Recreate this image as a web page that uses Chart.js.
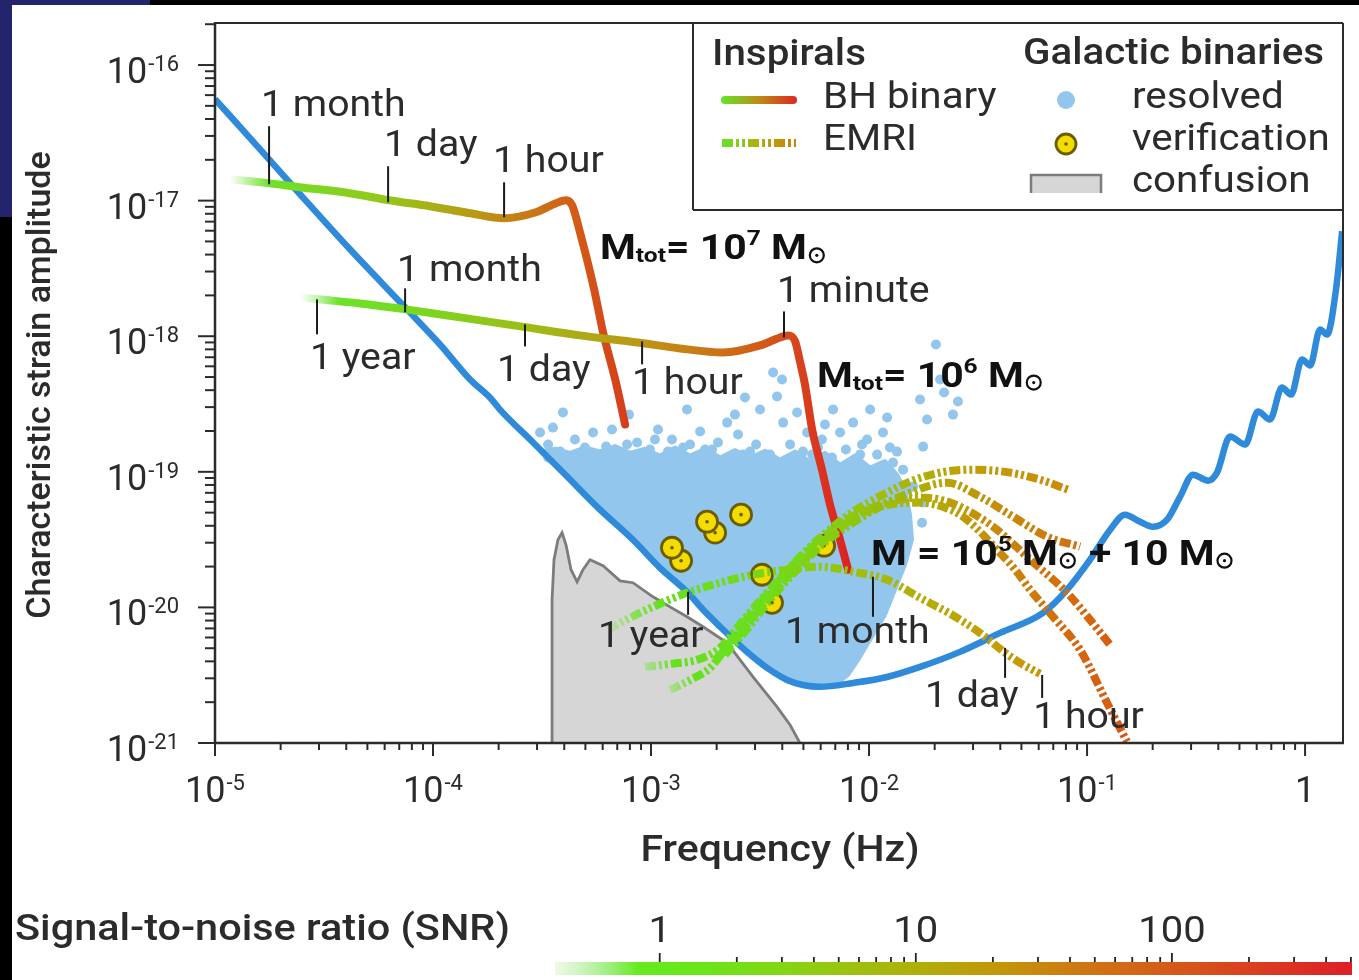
<!DOCTYPE html>
<html>
<head>
<meta charset="utf-8">
<script src="https://cdn.jsdelivr.net/npm/chart.js@4.4.1/dist/chart.umd.min.js"></script>
<style>
  html, body { margin: 0; padding: 0; background: #fff; }
  body { width: 1359px; height: 980px; position: relative; overflow: hidden; }
  canvas { position: absolute; left: 0; }
  #main { top: 0; }
  #snr { top: 880px; }
  .edge { position: absolute; background: #000; z-index: 5; }
</style>
</head>
<body>
<div class="edge" style="left:0;top:0;width:1359px;height:5px"></div>
<div class="edge" style="left:0;top:0;width:12px;height:980px"></div>
<div class="edge" style="left:0;top:0;width:150px;height:5px;background:#24246c"></div>
<div class="edge" style="left:0;top:0;width:12px;height:217px;background:#24246c"></div>
<canvas id="main" width="1359" height="980"></canvas>
<canvas id="snr" width="1359" height="100"></canvas>
<script>
(function () {
  'use strict';

  // ---- values: log10(frequency / Hz), log10(strain) ----
  const X_DECADES = [-5, -4, -3, -2, -1, 0];
  const Y_DECADES = [-21, -20, -19, -18, -17, -16];
  const X_LIMITS = [-5, 0.174];
  const Y_LIMITS = [-21, -15.69];

  // LISA sensitivity
  const SENS_F = [-5.000, -4.794, -4.610, -4.381, -4.128, -3.968, -3.830, -3.739, -3.693, -3.541, -3.385, -3.234, -3.083, -2.959, -2.835, -2.761, -2.683, -2.606, -2.532, -2.454, -2.376, -2.303, -2.225, -2.073, -1.917, -1.766, -1.583, -1.399, -1.202, -1.092, -0.986, -0.894, -0.826, -0.757, -0.697, -0.633, -0.573, -0.514, -0.445, -0.404, -0.344, -0.275, -0.216, -0.161, -0.106, -0.064, -0.014, 0.023, 0.069, 0.101, 0.142, 0.170];
  const SENS_H = [-16.251, -16.620, -16.953, -17.359, -17.787, -18.061, -18.319, -18.452, -18.541, -18.784, -19.035, -19.279, -19.501, -19.708, -19.885, -20.018, -20.143, -20.261, -20.365, -20.461, -20.535, -20.572, -20.586, -20.557, -20.513, -20.439, -20.328, -20.188, -20.040, -19.870, -19.648, -19.427, -19.316, -19.368, -19.405, -19.353, -19.183, -19.021, -19.065, -19.006, -18.740, -18.799, -18.555, -18.614, -18.378, -18.430, -18.171, -18.216, -17.950, -17.987, -17.654, -17.226];

  // galactic confusion foreground
  const CONF_F = [-3.454, -3.454, -3.445, -3.427, -3.408, -3.390, -3.367, -3.339, -3.312, -3.280, -3.220, -3.142, -3.083, -2.991, -2.913, -2.835, -2.761, -2.651, -2.532, -2.422, -2.362, -2.317];
  const CONF_H = [-21.000, -19.944, -19.648, -19.501, -19.449, -19.538, -19.722, -19.811, -19.722, -19.648, -19.693, -19.804, -19.818, -19.922, -19.996, -20.069, -20.143, -20.261, -20.513, -20.734, -20.867, -21.000];

  // resolved galactic binaries: dense cloud outline + scattered sources
  const GB_AREA_F = [-3.509, -3.440, -3.372, -3.303, -3.234, -3.165, -3.096, -3.028, -2.959, -2.890, -2.821, -2.752, -2.683, -2.615, -2.546, -2.477, -2.408, -2.339, -2.271, -2.202, -2.133, -2.064, -1.995, -1.927, -1.872, -1.835, -1.812, -1.803, -1.835, -1.881, -1.927, -1.995, -2.050, -2.096, -2.156, -2.225, -2.303, -2.376, -2.454, -2.532, -2.606, -2.683, -2.761, -2.835, -2.959, -3.083, -3.234, -3.385, -3.509];
  const GB_AREA_H = [-18.850, -18.830, -18.860, -18.820, -18.850, -18.810, -18.860, -18.830, -18.880, -18.820, -18.880, -18.830, -18.895, -18.840, -18.895, -18.845, -18.910, -18.850, -18.925, -18.860, -18.947, -18.880, -18.969, -18.920, -19.021, -19.131, -19.316, -19.501, -19.685, -19.870, -20.055, -20.239, -20.387, -20.498, -20.572, -20.586, -20.572, -20.535, -20.461, -20.365, -20.261, -20.143, -20.018, -19.885, -19.708, -19.501, -19.279, -19.035, -18.851];
  const GB_DOTS_F = [-3.509, -3.450, -3.404, -3.349, -3.266, -3.179, -3.101, -3.064, -2.968, -2.904, -2.835, -2.775, -2.693, -2.651, -2.569, -2.500, -2.440, -2.399, -2.422, -2.394, -2.330, -2.284, -2.216, -2.165, -2.133, -2.073, -2.009, -1.936, -1.917, -1.872, -1.766, -1.693, -1.674, -1.656, -1.592, -1.615, -1.734, -1.752, -1.798, -1.752, -1.757, -1.890, -3.206, -3.005, -2.752, -2.546, -2.261, -2.041, -3.303, -2.821, -2.601, -2.202, -1.995, -2.615, -3.472,
    -3.472, -3.417, -3.335, -3.252, -3.179, -3.110, -3.041, -2.982, -2.922, -2.853, -2.789, -2.720, -2.578, -2.518, -2.454, -2.362, -2.303, -2.234, -2.170, -2.106, -2.032, -1.963, -1.904, -1.844, -1.821];
  const GB_DOTS_H = [-18.710, -18.674, -18.563, -18.762, -18.710, -18.688, -18.578, -18.784, -18.688, -18.762, -18.541, -18.703, -18.784, -18.637, -18.452, -18.541, -18.267, -18.319, -18.445, -18.637, -18.563, -18.710, -18.762, -18.541, -18.710, -18.637, -18.762, -18.710, -18.600, -18.851, -18.467, -18.061, -18.319, -18.415, -18.482, -18.578, -18.614, -18.814, -19.109, -19.227, -19.375, -18.932, -18.814, -18.836, -18.836, -18.851, -18.873, -18.873, -18.821, -18.799, -18.725, -18.651, -18.541, -18.578, -18.799,
    -18.895, -18.851, -18.895, -18.873, -18.910, -18.799, -18.873, -18.762, -18.851, -18.821, -18.895, -18.836, -18.873, -18.799, -18.873, -18.799, -18.851, -18.821, -18.895, -18.836, -18.799, -18.873, -18.821, -18.984, -19.131];

  // verification binaries
  const VERIF_F = [-2.862, -2.904, -2.706, -2.743, -2.587, -2.491, -2.445, -2.206];
  const VERIF_H = [-19.656, -19.560, -19.449, -19.368, -19.316, -19.759, -19.966, -19.545];

  // black hole binary inspirals, Mtot = 1e7 and 1e6 solar masses
  const BH7_F = [-4.931, -4.757, -4.610, -4.381, -4.202, -4.014, -3.830, -3.674, -3.528, -3.436, -3.390, -3.362, -3.326, -3.261, -3.220, -3.161, -3.119];
  const BH7_H = [-16.842, -16.871, -16.901, -16.945, -16.997, -17.041, -17.093, -17.130, -17.086, -17.019, -16.997, -17.034, -17.233, -17.654, -17.972, -18.341, -18.651];
  const BH6_F = [-4.610, -4.528, -4.335, -4.124, -3.876, -3.569, -3.326, -3.060, -2.867, -2.670, -2.500, -2.408, -2.372, -2.339, -2.317, -2.294, -2.261, -2.216, -2.179, -2.133, -2.096];
  const BH6_H = [-17.713, -17.728, -17.758, -17.802, -17.861, -17.935, -17.994, -18.046, -18.090, -18.120, -18.068, -18.009, -17.994, -18.038, -18.186, -18.356, -18.688, -18.984, -19.242, -19.501, -19.722];

  // EMRI tracks, M = 1e5 + 10 solar masses
  const EMA_F = [-3.197, -3.142, -2.991, -2.835, -2.683, -2.532, -2.376, -2.225, -2.073, -1.917, -1.766, -1.628, -1.491, -1.381, -1.307, -1.216];
  const EMA_H = [-20.165, -20.114, -19.996, -19.892, -19.818, -19.759, -19.722, -19.700, -19.737, -19.796, -19.929, -20.047, -20.188, -20.328, -20.409, -20.490];
  const EM1_F = [-2.913, -2.821, -2.729, -2.647, -2.546, -2.422, -2.317, -2.193, -2.073, -1.936, -1.789, -1.651, -1.514, -1.353, -1.216, -1.087];
  const EM1_H = [-20.609, -20.535, -20.446, -20.276, -20.055, -19.818, -19.626, -19.442, -19.294, -19.168, -19.058, -18.999, -18.984, -19.006, -19.058, -19.131];
  const EM2_F = [-3.028, -2.913, -2.789, -2.683, -2.583, -2.477, -2.362, -2.248, -2.119, -1.986, -1.858, -1.743, -1.628, -1.514, -1.413, -1.261, -1.092, -0.986, -0.894];
  const EM2_H = [-20.439, -20.417, -20.387, -20.298, -20.106, -19.907, -19.708, -19.538, -19.368, -19.264, -19.205, -19.191, -19.227, -19.316, -19.427, -19.648, -19.892, -20.092, -20.276];
  const EM3_F = [-2.706, -2.615, -2.514, -2.399, -2.280, -2.156, -2.032, -1.904, -1.766, -1.651, -1.569, -1.491, -1.413, -1.330, -1.261, -1.156, -1.032, -0.908, -0.817];
  const EM3_H = [-20.387, -20.239, -20.032, -19.818, -19.619, -19.442, -19.309, -19.242, -19.227, -19.264, -19.331, -19.442, -19.575, -19.722, -19.870, -20.069, -20.313, -20.705, -20.990];
  const EM4_F = [-2.661, -2.555, -2.454, -2.339, -2.216, -2.087, -1.950, -1.812, -1.642, -1.491, -1.339, -1.183, -1.032];
  const EM4_H = [-20.350, -20.151, -19.944, -19.737, -19.538, -19.390, -19.257, -19.154, -19.080, -19.183, -19.331, -19.479, -19.552];

  // time-to-merger marks on the tracks
  const MARK_TEXT = ['1 month', '1 day', '1 hour', '1 year', '1 month', '1 day', '1 hour', '1 minute', '1 year', '1 month', '1 day', '1 hour'];
  const MARK_F = [-4.752, -4.206, -3.674, -4.532, -4.128, -3.578, -3.041, -2.390, -2.830, -1.982, -1.376, -1.206];
  const MARK_H = [-16.879, -17.012, -17.123, -17.728, -17.824, -17.913, -18.038, -18.009, -19.885, -19.774, -20.298, -20.498];

  // mass labels (anchor = left end of the baseline)
  const MASS_F = [-3.234, -2.239, -1.991];
  const MASS_H = [-17.433, -18.371, -19.685];
  const MASS_TEXT = [
    [['M', 'b'], ['tot', 'sub'], ['= 10', 'b'], ['7', 'sup'], [' M', 'b'], 'sun'],
    [['M', 'b'], ['tot', 'sub'], ['= 10', 'b'], ['6', 'sup'], [' M', 'b'], 'sun'],
    [['M = 10', 'b'], ['5', 'sup'], [' M', 'b'], 'sun', [' + 10 M', 'b'], 'sun']
  ];

  // SNR colour bar
  const SNR_RANGE = [0.39, 505];
  const SNR_LABELS = [1, 10, 100];

  // ---- styles ----
  const FONT = 'Roboto, "Noto Sans", sans-serif';
  const INK = '#2b2b2b';
  const AZUL = '#2f8ad9';
  const GB_AZUL = '#93c6ec';
  const AMARELO = '#f4db00';
  const OLIVA = '#6a5c00';
  const CINZA = '#d5d6d5';
  const CINZA_BORDA = '#7c7c7c';
  const EMRI_DASH = [11, 3, 3, 3, 3, 3];

  // tick direction / length / label offset, one per mark
  const MARK_STYLE = [
    [-1, 58, -8, -10], [-1, 36, -4, -10], [-1, 35, -11, -10],
    [1, 35, -7, 35], [-1, 24, -8, -7], [1, 22, -28, 35], [1, 23, -10, 30], [-1, 26, -7, -9],
    [1, 23, -90, 32], [1, 40, -88, 26], [1, 30, -80, 29], [1, 23, -9, 30]
  ];

  const BH7_STOPS = [[0, 'rgba(120,230,70,0)'], [0.05, 'rgba(115,228,55,0.55)'], [0.1, 'rgb(110,225,40)'], [0.4, 'rgb(150,198,25)'], [0.62, 'rgb(185,152,20)'], [0.75, 'rgb(200,122,20)'], [0.86, 'rgb(210,95,22)'], [1, 'rgb(214,62,28)']];
  const BH6_STOPS = [[0, 'rgba(120,230,70,0)'], [0.04, 'rgba(115,228,55,0.55)'], [0.07, 'rgb(110,225,40)'], [0.2, 'rgb(118,218,32)'], [0.42, 'rgb(158,188,22)'], [0.62, 'rgb(188,150,20)'], [0.77, 'rgb(204,112,22)'], [0.88, 'rgb(212,78,26)'], [1, 'rgb(222,34,34)']];
  const EMA_STOPS = [[0, 'rgba(110,228,40,0.15)'], [0.06, 'rgba(105,228,35,0.7)'], [0.12, 'rgb(100,226,30)'], [0.42, 'rgb(125,212,20)'], [0.6, 'rgb(165,188,10)'], [0.8, 'rgb(190,165,5)'], [1, 'rgb(202,150,5)']];
  const EM1_STOPS = [[0, 'rgba(105,228,35,0.3)'], [0.06, 'rgb(100,226,30)'], [0.3, 'rgb(112,220,25)'], [0.55, 'rgb(165,186,8)'], [0.75, 'rgb(192,158,5)'], [1, 'rgb(206,138,5)']];
  const EM2_STOPS = [[0, 'rgba(105,228,35,0.3)'], [0.06, 'rgb(100,226,30)'], [0.35, 'rgb(115,216,25)'], [0.55, 'rgb(170,182,8)'], [0.7, 'rgb(196,148,5)'], [0.85, 'rgb(207,118,12)'], [1, 'rgb(214,96,16)']];
  const EM3_STOPS = [[0, 'rgb(100,226,30)'], [0.3, 'rgb(135,205,15)'], [0.5, 'rgb(176,176,6)'], [0.7, 'rgb(201,136,8)'], [0.85, 'rgb(211,106,14)'], [1, 'rgb(217,88,20)']];
  const EM4_STOPS = [[0, 'rgb(100,226,30)'], [0.35, 'rgb(140,200,12)'], [0.6, 'rgb(182,166,5)'], [0.8, 'rgb(201,136,8)'], [1, 'rgb(210,110,14)']];
  const SNR_STOPS = [[0, 'rgba(215,245,205,0.5)'], [0.025, 'rgba(190,240,170,0.65)'], [0.056, 'rgba(160,238,130,0.85)'], [0.103, 'rgb(100,235,30)'], [0.182, 'rgb(105,230,25)'], [0.282, 'rgb(130,215,20)'], [0.383, 'rgb(160,190,15)'], [0.453, 'rgb(175,175,10)'], [0.558, 'rgb(195,150,10)'], [0.684, 'rgb(208,112,20)'], [0.774, 'rgb(212,90,25)'], [0.885, 'rgb(218,60,32)'], [1, 'rgb(222,30,40)']];

  function pts(F, H) { return F.map(function (f, i) { return { x: Math.pow(10, f), y: Math.pow(10, H[i]) }; }); }

  function gradiente(F, stops) {
    return function (c) {
      const chart = c.chart;
      if (!chart.chartArea) return stops[stops.length - 1][1];
      const xs = chart.scales.x;
      const x0 = xs.getPixelForValue(Math.pow(10, F[0]));
      const x1 = xs.getPixelForValue(Math.pow(10, F[F.length - 1]));
      const g = chart.ctx.createLinearGradient(x0, 0, x1, 0);
      stops.forEach(function (s) { g.addColorStop(s[0], s[1]); });
      return g;
    };
  }

  function bh(F, H, stops) {
    return {
      data: pts(F, H), borderColor: gradiente(F, stops), borderWidth: 8,
      borderCapStyle: 'round', borderJoinStyle: 'round', cubicInterpolationMode: 'monotone',
      pointRadius: 0, fill: false, order: 2
    };
  }
  function emri(F, H, stops) {
    return {
      data: pts(F, H), borderColor: gradiente(F, stops), borderWidth: 8,
      borderDash: EMRI_DASH, cubicInterpolationMode: 'monotone',
      pointRadius: 0, fill: false, order: 1
    };
  }

  // ---- text helpers ----
  function larg(ctx, s, font) { ctx.font = font; return ctx.measureText(s).width; }
  function txt(ctx, s, x, y, font, opt) {
    opt = opt || {};
    ctx.save();
    ctx.font = font;
    ctx.fillStyle = opt.color || INK;
    ctx.textAlign = opt.align || 'left';
    ctx.textBaseline = 'alphabetic';
    ctx.translate(x, y);
    if (opt.rot) ctx.rotate(opt.rot);
    ctx.scale(opt.sx || 1, 1);
    ctx.fillText(s, 0, 0);
    ctx.restore();
  }
  function seg(ctx, x0, y0, x1, y1) { ctx.beginPath(); ctx.moveTo(x0, y0); ctx.lineTo(x1, y1); ctx.stroke(); }

  function potencia(ctx, e, x, y, align) {
    const big = '36px ' + FONT, small = '22px ' + FONT;
    if (e === 0) { txt(ctx, '1', x, y, big, { align: align === 'center' ? 'center' : 'right' }); return; }
    const wb = larg(ctx, '10', big), ws = larg(ctx, String(e), small);
    const tot = wb + 1 + ws;
    const left = align === 'center' ? x - tot / 2 : x - tot;
    txt(ctx, '10', left, y, big);
    txt(ctx, String(e), left + wb + 1, y - 12, small);
  }

  function sol(ctx, cx, cy, r) {
    ctx.save();
    ctx.strokeStyle = '#111'; ctx.fillStyle = '#111'; ctx.lineWidth = 2.2;
    ctx.beginPath(); ctx.arc(cx, cy, r, 0, Math.PI * 2); ctx.stroke();
    ctx.beginPath(); ctx.arc(cx, cy, 1.6, 0, Math.PI * 2); ctx.fill();
    ctx.restore();
  }

  function massa(ctx, x, y, partes) {
    const B = 'bold 35px ' + FONT, S = 'bold 21px ' + FONT, SX = 1.17;
    let cx = x;
    partes.forEach(function (p) {
      if (p === 'sun') { sol(ctx, cx + 10, y - 4, 7); cx += 21; return; }
      const f = p[1] === 'b' ? B : S;
      const dy = p[1] === 'sub' ? 3 : (p[1] === 'sup' ? -14 : 0);
      txt(ctx, p[0], cx, y + dy, f, { color: '#111', sx: SX });
      cx += larg(ctx, p[0], f) * SX;
    });
  }

  function pontoVerif(ctx, x, y, r) {
    ctx.save();
    ctx.fillStyle = AMARELO; ctx.strokeStyle = OLIVA; ctx.lineWidth = 2.8;
    ctx.beginPath(); ctx.arc(x, y, r, 0, Math.PI * 2); ctx.fill(); ctx.stroke();
    ctx.fillStyle = OLIVA; ctx.beginPath(); ctx.arc(x, y, 1.8, 0, Math.PI * 2); ctx.fill();
    ctx.restore();
  }

  // axes, frame, annotations and legend
  const molduraPlugin = {
    id: 'moldura',
    afterDraw: function (chart) {
      const ctx = chart.ctx, a = chart.chartArea, xs = chart.scales.x, ys = chart.scales.y;
      const LBL = '37px ' + FONT;
      ctx.save();
      ctx.lineCap = 'butt';

      // frame
      ctx.strokeStyle = INK; ctx.lineWidth = 2;
      seg(ctx, a.left, a.top, a.right, a.top);
      seg(ctx, a.right, a.top, a.right, a.bottom);
      ctx.lineWidth = 2.5;
      seg(ctx, a.left, a.top - 1, a.left, a.bottom + 1);
      seg(ctx, a.left - 1, a.bottom, a.right + 1, a.bottom);

      // x ticks
      ctx.lineWidth = 2;
      X_DECADES.forEach(function (d) {
        const px = xs.getPixelForValue(Math.pow(10, d));
        seg(ctx, px, a.bottom, px, a.bottom + 13);
        potencia(ctx, d, px, 802, 'center');
        for (let k = 2; k <= 9; k++) {
          const v = k * Math.pow(10, d);
          if (v > xs.max) break;
          const p = xs.getPixelForValue(v);
          seg(ctx, p, a.bottom, p, a.bottom + 7);
        }
      });
      // y ticks
      Y_DECADES.forEach(function (d) {
        const py = ys.getPixelForValue(Math.pow(10, d));
        seg(ctx, a.left - 17, py, a.left, py);
        potencia(ctx, d, 179, py + 18, 'right');
        for (let k = 2; k <= 9; k++) {
          const v = k * Math.pow(10, d);
          if (v > ys.max) break;
          const p = ys.getPixelForValue(v);
          seg(ctx, a.left - 10, p, a.left, p);
        }
      });

      // axis titles
      txt(ctx, 'Frequency (Hz)', 780, 861, '500 36px ' + FONT, { align: 'center', sx: 1.14 });
      txt(ctx, 'Characteristic strain amplitude', 50, 385, '500 34px ' + FONT, { align: 'center', rot: -Math.PI / 2 });

      // time-to-merger marks
      ctx.strokeStyle = '#1a1a1a'; ctx.lineWidth = 2;
      MARK_TEXT.forEach(function (s, i) {
        const st = MARK_STYLE[i];
        const px = xs.getPixelForValue(Math.pow(10, MARK_F[i]));
        const py = ys.getPixelForValue(Math.pow(10, MARK_H[i]));
        const end = py + st[0] * st[1];
        seg(ctx, px, py, px, end);
        txt(ctx, s, px + st[2], end + st[3], LBL, { sx: 1.06 });
      });

      // mass labels
      MASS_TEXT.forEach(function (partes, i) {
        massa(ctx, xs.getPixelForValue(Math.pow(10, MASS_F[i])), ys.getPixelForValue(Math.pow(10, MASS_H[i])), partes);
      });

      // legend box
      ctx.strokeStyle = INK; ctx.lineWidth = 2;
      seg(ctx, 693, a.top, 693, 210);
      seg(ctx, 693, 210, a.right, 210);
      const LEG = '500 37px ' + FONT;
      txt(ctx, 'Inspirals', 712, 65, LEG, { sx: 1.09 });
      txt(ctx, 'Galactic binaries', 1023, 64, LEG, { sx: 1.09 });
      txt(ctx, 'BH binary', 823, 108, LBL, { sx: 1.09 });
      txt(ctx, 'EMRI', 823, 150, LBL, { sx: 1.09 });
      txt(ctx, 'resolved', 1132, 108, LBL, { sx: 1.09 });
      txt(ctx, 'verification', 1132, 150, LBL, { sx: 1.09 });
      txt(ctx, 'confusion', 1132, 192, LBL, { sx: 1.09 });

      let g = ctx.createLinearGradient(722, 0, 796, 0);
      g.addColorStop(0, 'rgb(100,228,40)'); g.addColorStop(0.5, 'rgb(190,140,20)'); g.addColorStop(1, 'rgb(222,40,36)');
      ctx.strokeStyle = g; ctx.lineWidth = 8; ctx.lineCap = 'round';
      seg(ctx, 725, 100, 793, 100);
      g = ctx.createLinearGradient(722, 0, 796, 0);
      g.addColorStop(0, 'rgb(100,228,40)'); g.addColorStop(0.55, 'rgb(180,170,10)'); g.addColorStop(1, 'rgb(205,125,15)');
      ctx.strokeStyle = g; ctx.lineWidth = 8; ctx.lineCap = 'butt'; ctx.setLineDash(EMRI_DASH);
      seg(ctx, 722, 143, 796, 143);
      ctx.setLineDash([]);

      ctx.fillStyle = GB_AZUL;
      ctx.beginPath(); ctx.arc(1066, 100, 9, 0, Math.PI * 2); ctx.fill();
      pontoVerif(ctx, 1066, 144, 10);
      ctx.fillStyle = CINZA; ctx.fillRect(1031, 175, 70, 18);
      ctx.strokeStyle = CINZA_BORDA; ctx.lineWidth = 2.5;
      ctx.beginPath(); ctx.moveTo(1031, 193); ctx.lineTo(1031, 175); ctx.lineTo(1101, 175); ctx.lineTo(1101, 193); ctx.stroke();

      ctx.restore();
    }
  };

  new Chart(document.getElementById('main'), {
    type: 'line',
    data: {
      datasets: [
        emri(EMA_F, EMA_H, EMA_STOPS),
        emri(EM1_F, EM1_H, EM1_STOPS),
        emri(EM4_F, EM4_H, EM4_STOPS),
        emri(EM3_F, EM3_H, EM3_STOPS),
        emri(EM2_F, EM2_H, EM2_STOPS),
        bh(BH6_F, BH6_H, BH6_STOPS),
        bh(BH7_F, BH7_H, BH7_STOPS),
        { // verification centres
          data: pts(VERIF_F, VERIF_H), showLine: false, pointRadius: 1.8, pointBorderWidth: 0,
          pointBackgroundColor: OLIVA, order: 3
        },
        {
          data: pts(VERIF_F, VERIF_H), showLine: false, pointRadius: 10.5, pointBorderWidth: 2.8,
          pointBackgroundColor: AMARELO, pointBorderColor: OLIVA, order: 3
        },
        {
          data: pts(SENS_F, SENS_H), borderColor: AZUL, borderWidth: 6.5, cubicInterpolationMode: 'monotone',
          borderJoinStyle: 'round', pointRadius: 0, fill: false, order: 4
        },
        {
          data: pts(CONF_F, CONF_H), borderColor: CINZA_BORDA, borderWidth: 2.8, backgroundColor: CINZA,
          tension: 0, pointRadius: 0, fill: 'start', order: 5
        },
        {
          data: pts(GB_DOTS_F, GB_DOTS_H), showLine: false, pointRadius: 5, pointBorderWidth: 0,
          pointBackgroundColor: GB_AZUL, order: 6
        },
        {
          data: pts(GB_AREA_F, GB_AREA_H), borderColor: GB_AZUL, borderWidth: 4, borderJoinStyle: 'round',
          backgroundColor: GB_AZUL, tension: 0, pointRadius: 0, fill: 'shape', order: 7
        }
      ]
    },
    options: {
      responsive: false, animation: false, events: [],
      layout: { padding: { left: 215, right: 16, top: 23, bottom: 237 } },
      scales: {
        x: { type: 'logarithmic', display: false, bounds: 'data', min: Math.pow(10, X_LIMITS[0]), max: Math.pow(10, X_LIMITS[1]) },
        y: { type: 'logarithmic', display: false, bounds: 'data', min: Math.pow(10, Y_LIMITS[0]), max: Math.pow(10, Y_LIMITS[1]) }
      },
      plugins: { legend: { display: false }, tooltip: { enabled: false } }
    },
    plugins: [molduraPlugin]
  });

  // SNR colour bar with its ticks
  const snrPlugin = {
    id: 'snrEixo',
    afterDraw: function (chart) {
      const ctx = chart.ctx, a = chart.chartArea, xs = chart.scales.x;
      ctx.save();
      ctx.strokeStyle = '#222'; ctx.lineWidth = 1.8;
      for (let e = 0; e <= 2; e++) {
        for (let k = 1; k <= 9; k++) {
          const v = k * Math.pow(10, e);
          if (v > xs.max) break;
          const p = xs.getPixelForValue(v);
          seg(ctx, p, a.top - (k === 1 ? 9 : 5), p, a.top);
        }
      }
      SNR_LABELS.forEach(function (v) {
        txt(ctx, String(v), xs.getPixelForValue(v), 62, '37px ' + FONT, { align: 'center', sx: 1.08 });
      });
      txt(ctx, 'Signal-to-noise ratio (SNR)', 15, 60, '500 37px ' + FONT, { sx: 1.12 });
      ctx.restore();
    }
  };

  new Chart(document.getElementById('snr'), {
    type: 'bar',
    data: {
      labels: ['SNR'],
      datasets: [{
        data: [SNR_RANGE], borderWidth: 0, barPercentage: 1, categoryPercentage: 1,
        backgroundColor: function (c) {
          const a = c.chart.chartArea;
          if (!a) return '#9c3';
          const g = c.chart.ctx.createLinearGradient(a.left, 0, a.right, 0);
          SNR_STOPS.forEach(function (s) { g.addColorStop(s[0], s[1]); });
          return g;
        }
      }]
    },
    options: {
      indexAxis: 'y', responsive: false, animation: false, events: [],
      layout: { padding: { left: 555, right: 7, top: 82, bottom: 5 } },
      scales: {
        x: { type: 'logarithmic', display: false, bounds: 'data', min: SNR_RANGE[0], max: SNR_RANGE[1] },
        y: { display: false }
      },
      plugins: { legend: { display: false }, tooltip: { enabled: false } }
    },
    plugins: [snrPlugin]
  });
})();
</script>
</body>
</html>
